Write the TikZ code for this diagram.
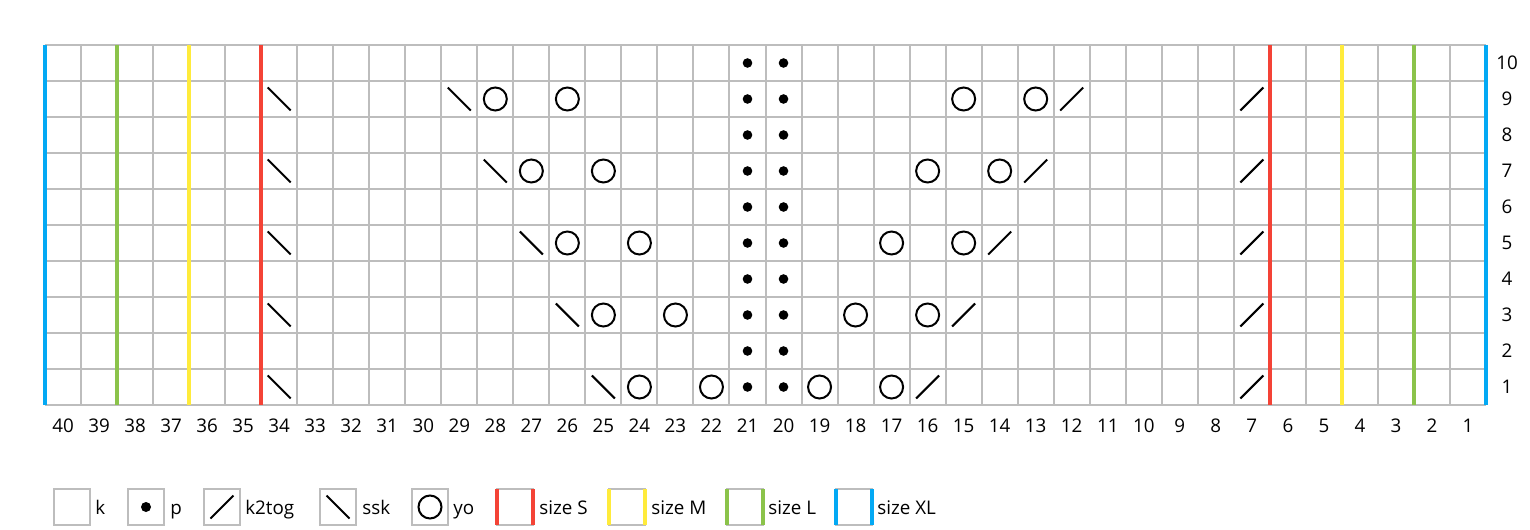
\documentclass[tikz,border=0pt]{standalone}
\usepackage{fontspec}
\setmainfont{Open Sans}
\definecolor{sizeS}{HTML}{F44336}
\definecolor{sizeM}{HTML}{FFEB3B}
\definecolor{sizeL}{HTML}{8BC34A}
\definecolor{sizeXL}{HTML}{03A9F4}
\definecolor{gridgray}{HTML}{BDBDBD}
\tikzset{
  gridline/.style={line width=0.04cm, color=gridgray},
  sizeline/.style={line width=0.08cm},
  stitch/.style={line width=0.04cm, color=black},
  lbl/.style={inner sep=0pt, font=\fontsize{10.7}{12}\selectfont},
  leglbl/.style={lbl, anchor=base west}
}
% stitch symbols, (column, row) of the chart
\def\knitp(#1,#2){\fill ({45+(40.5-#1)*36.025},{423-36*#2}) circle (4.8);}
\def\knityo(#1,#2){\draw[stitch] ({45+(40.5-#1)*36.025},{423-36*#2}) circle (11.5);}
\def\knitktog(#1,#2){\draw[stitch] ({45+(40.5-#1)*36.025-11.5},{423-36*#2+11.5}) -- ++(23,-23);}
\def\knitssk(#1,#2){\draw[stitch] ({45+(40.5-#1)*36.025-11.5},{423-36*#2-11.5}) -- ++(23,23);}

\begin{document}
\begin{tikzpicture}[x=0.02cm, y=-0.02cm]
	%%%%% START %%%%%
	\useasboundingbox (0,0) rectangle (1530,530);
	
	% chart grid
	\foreach \i in {0,...,40}
		\draw[gridline] ({45+\i*36.025},45) -- ({45+\i*36.025},405);
	\foreach \j in {0,...,10}
		\draw[gridline] (45,{45+\j*36}) -- (1486,{45+\j*36});
	
	% size lines
	\draw[sizeline, sizeXL] (45,45) -- (45,405);
	\draw[sizeline, sizeXL] (1486,45) -- (1486,405);
	\draw[sizeline, sizeL] (117.05,45) -- (117.05,405);
	\draw[sizeline, sizeL] (1414,45) -- (1414,405);
	\draw[sizeline, sizeM] (189.1,45) -- (189.1,405);
	\draw[sizeline, sizeM] (1341.9,45) -- (1341.9,405);
	\draw[sizeline, sizeS] (261.15,45) -- (261.15,405);
	\draw[sizeline, sizeS] (1269.85,45) -- (1269.85,405);
	
	% numbers
	\foreach \c in {1,...,40}
		\node[lbl] (col\c) at ({45+(40.5-\c)*36.025},426) {\c};
	\foreach \r in {1,...,10}
		\node[lbl] (row\r) at (1507,{423-36*\r}) {\r};
	
	% purl columns
	\foreach \r in {1,...,10} {
		\knitp(21,\r) \knitp(20,\r)
	}
	
	% row 1
	\knitssk(34,1) \knitssk(25,1) \knityo(24,1) \knityo(22,1)
	\knityo(19,1) \knityo(17,1) \knitktog(16,1) \knitktog(7,1)
	% row 3
	\knitssk(34,3) \knitssk(26,3) \knityo(25,3) \knityo(23,3)
	\knityo(18,3) \knityo(16,3) \knitktog(15,3) \knitktog(7,3)
	% row 5
	\knitssk(34,5) \knitssk(27,5) \knityo(26,5) \knityo(24,5)
	\knityo(17,5) \knityo(15,5) \knitktog(14,5) \knitktog(7,5)
	% row 7
	\knitssk(34,7) \knitssk(28,7) \knityo(27,7) \knityo(25,7)
	\knityo(16,7) \knityo(14,7) \knitktog(13,7) \knitktog(7,7)
	% row 9
	\knitssk(34,9) \knitssk(29,9) \knityo(28,9) \knityo(26,9)
	\knityo(15,9) \knityo(13,9) \knitktog(12,9) \knitktog(7,9)
	
	% legend
	\draw[gridline] (54,489) rectangle ++(36,36);
	\node[leglbl] (legk) at (95,514) {k};
	
	\draw[gridline] (128,489) rectangle ++(36,36);
	\fill (146,507) circle (5);
	\node[leglbl] (legp) at (170,514) {p};
	
	\draw[gridline] (204,489) rectangle ++(36,36);
	\draw[stitch] (210.5,518.5) -- ++(23,-23);
	\node[leglbl] (legktog) at (245,514) {k2tog};
	
	\draw[gridline] (320,489) rectangle ++(36,36);
	\draw[stitch] (326.5,495.5) -- ++(23,23);
	\node[leglbl] (legssk) at (362,514) {ssk};
	
	\draw[gridline] (412,489) rectangle ++(36,36);
	\draw[stitch] (430,507) circle (11.5);
	\node[leglbl] (legyo) at (453,514) {yo};
	
	\draw[gridline] (497,489) rectangle ++(36,36);
	\draw[sizeline, sizeS] (497,489) -- ++(0,36) (533,489) -- ++(0,36);
	\node[leglbl] (legS) at (539,514) {size S};
	
	\draw[gridline] (609,489) rectangle ++(36,36);
	\draw[sizeline, sizeM] (609,489) -- ++(0,36) (645,489) -- ++(0,36);
	\node[leglbl] (legM) at (651,514) {size M};
	
	\draw[gridline] (727,489) rectangle ++(36,36);
	\draw[sizeline, sizeL] (727,489) -- ++(0,36) (763,489) -- ++(0,36);
	\node[leglbl] (legL) at (768,514) {size L};
	
	\draw[gridline] (836,489) rectangle ++(36,36);
	\draw[sizeline, sizeXL] (836,489) -- ++(0,36) (872,489) -- ++(0,36);
	\node[leglbl] (legXL) at (877,514) {size XL};
	
	%%%%% END %%%%%
\end{tikzpicture}
\end{document}
